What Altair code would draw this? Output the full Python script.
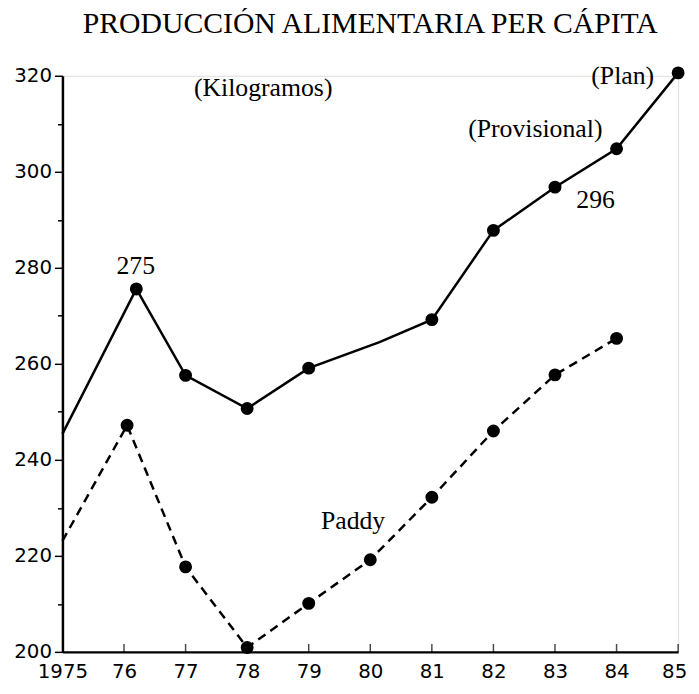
import altair as alt
import pandas as pd

# Solid line: food production per capita (kg)
solid_years = [1975, 1976.2, 1977, 1978, 1979, 1980.15, 1981, 1982, 1983, 1984, 1985]
solid_vals = [245.4, 275.6, 257.6, 250.7, 259.1, 264.5, 269.2, 287.8, 296.8, 304.8, 320.6]
solid_marker = [False, True, True, True, True, False, True, True, True, True, True]

# Dashed line: Paddy
paddy_years = [1975, 1976.05, 1977, 1978, 1979, 1980, 1981, 1982, 1983, 1984]
paddy_vals = [223.1, 247.2, 217.7, 200.9, 210.1, 219.2, 232.2, 246.0, 257.7, 265.3]
paddy_marker = [False, True, True, True, True, True, True, True, True, True]

# Annotations
ann_text = ["(Kilogramos)", "275", "296", "(Provisional)", "(Plan)", "Paddy"]
ann_x = [1978.26, 1976.19, 1983.66, 1982.68, 1984.1, 1979.72]
ann_y = [317.5, 280.4, 294.2, 308.9, 320.0, 227.2]

x_ticks = list(range(1975, 1986))
y_ticks = list(range(200, 321, 10))

solid = pd.DataFrame({"year": solid_years, "value": solid_vals, "marker": solid_marker})
paddy = pd.DataFrame({"year": paddy_years, "value": paddy_vals, "marker": paddy_marker})
ann = pd.DataFrame({"text": ann_text, "year": ann_x, "value": ann_y})
xt = pd.DataFrame({"year": x_ticks[1:], "value": [200] * (len(x_ticks) - 1)})

FONT_SERIF = "Liberation Serif"
FONT_AX = "DejaVu Sans"

xscale = alt.Scale(domain=[1975, 1985], nice=False, zero=False)
yscale = alt.Scale(domain=[200, 320], nice=False, zero=False)

xaxis = alt.Axis(
    values=x_ticks,
    labelExpr="datum.value == 1975 ? '1975' : substring(toString(datum.value), 2, 4)",
    title=None, grid=False, domainColor="black", domainWidth=2.5,
    ticks=False, labelFlush=False,
    labelOffset={"condition": {"test": "datum.value == 1985", "value": -4}, "value": 0},
    labelFont=FONT_AX, labelFontSize=20, labelColor="black", labelPadding=10,
    labelOverlap=False,
)
yaxis = alt.Axis(
    values=y_ticks,
    labelExpr="datum.value % 20 === 0 ? datum.label : ''",
    title=None, grid=False, domainColor="black", domainWidth=2.5,
    tickColor="black", tickWidth=1.5,
    tickSize={"condition": {"test": "datum.value % 20 === 0", "value": 8}, "value": 5},
    labelFont=FONT_AX, labelFontSize=20, labelColor="black", labelPadding=3,
    labelOverlap=False, labelFlush=False,
)

x = alt.X("year:Q", scale=xscale, axis=xaxis)
y = alt.Y("value:Q", scale=yscale, axis=yaxis)

solid_line = alt.Chart(solid).mark_line(color="black", strokeWidth=2.5).encode(x=x, y=y)
solid_pts = alt.Chart(solid).transform_filter("datum.marker").mark_circle(
    color="black", size=170, opacity=1).encode(x=x, y=y)

paddy_line = alt.Chart(paddy).mark_line(color="black", strokeWidth=2.5, strokeDash=[9, 6]).encode(x=x, y=y)
paddy_pts = alt.Chart(paddy).transform_filter("datum.marker").mark_circle(
    color="black", size=170, opacity=1).encode(x=x, y=y)

xticks = alt.Chart(xt).mark_tick(
    orient="vertical", color="black", thickness=1.5, size=8, yOffset=-4
).encode(x=x, y=y)

labels = alt.Chart(ann).mark_text(
    font=FONT_SERIF, fontSize=26, color="black", align="center", baseline="middle"
).encode(x=x, y=y, text="text:N")

chart = alt.layer(solid_line, paddy_line, solid_pts, paddy_pts, xticks, labels).properties(
    width=622, height=582,
    title=alt.TitleParams(
        "PRODUCCIÓN ALIMENTARIA PER CÁPITA",
        font=FONT_SERIF, fontSize=30, fontWeight="normal", color="black",
        anchor="middle", offset=24,
    ),
    autosize=alt.AutoSizeParams(type="none"),
    padding={"left": 55, "top": 65, "right": 13, "bottom": 31},
).configure_view(stroke=None).configure(background="white")

chart.save("out.html", embed_options={"renderer": "svg", "actions": False})
